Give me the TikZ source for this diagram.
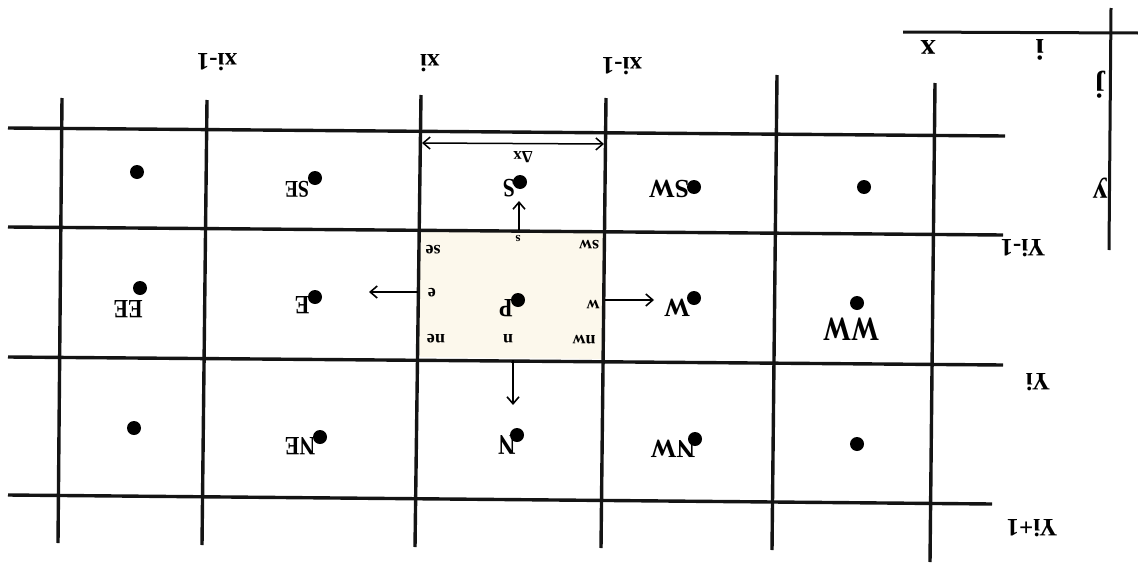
\documentclass[tikz,border=0pt]{standalone}
\usepackage{fontspec}
\usepackage{graphicx}
\setmainfont{Liberation Serif}
\usetikzlibrary{arrows.meta}
\definecolor{cream}{HTML}{FCF8EC}
\newcommand{\tallt}[1]{\scalebox{1}[1.2]{#1}}
\begin{document}
\begin{tikzpicture}[x=1pt,y=-1pt,
  gridline/.style={line width=3.4pt, black!92},
  axisline/.style={line width=3pt, black!92},
  cdot/.style={circle, fill=black, inner sep=0pt, minimum size=14pt},
  lab/.style={rotate=180, font=\bfseries\fontsize{22}{22}\selectfont, inner sep=0pt},
  biglab/.style={rotate=180, font=\bfseries\fontsize{26}{26}\selectfont, inner sep=0pt},
  ylab/.style={rotate=180, font=\bfseries\fontsize{25}{25}\selectfont, inner sep=0pt},
  xlab/.style={rotate=180, font=\bfseries\fontsize{25}{25}\selectfont, inner sep=0pt},
  alab/.style={rotate=180, font=\bfseries\fontsize{30}{30}\selectfont, inner sep=0pt},
  face/.style={rotate=180, font=\bfseries\fontsize{18}{18}\selectfont, inner sep=0pt},
  flux/.style={line width=1.6pt, -{Straight Barb[length=7pt,width=12pt]}},
]
\useasboundingbox (0,0) rectangle (1138,565);
% highlighted control volume
\fill[cream] (420,229) -- (606,231) -- (603,359) -- (416,357) -- cycle;
% grid
\draw[gridline] (8,128) -- (1005,136);
\draw[gridline] (8,227) -- (1003,235);
\draw[gridline] (8,357) -- (1003,365);
\draw[gridline] (8,495) -- (992,504);
\draw[gridline] (62,98) -- (58,543);
\draw[gridline] (207,100) -- (202,545);
\draw[gridline] (421,95) -- (415,547);
\draw[gridline] (606,98) -- (601,548);
\draw[gridline] (777,75) -- (772,550);
\draw[gridline] (935,83) -- (930,562);
% axes
\draw[axisline] (903,32) -- (1138,33);
\draw[axisline] (1111,8) -- (1109,250);
\node[alab] (ax) at (928,47) {x};
\node[alab] (ai) at (1040,50) {i};
\node[alab] (aj) at (1100,85) {j};
\node[alab] (ay) at (1100,188) {y};
% row / column labels
\node[xlab] (xa) at (217,62) {xi-1};
\node[xlab] (xb) at (430,63) {xi};
\node[xlab] (xc) at (622,66) {xi-1};
\node[ylab] (ya) at (1023,248) {Yi-1};
\node[ylab] (yb) at (1038,382) {Yi};
\node[ylab] (yc) at (1032,528) {Yi+1};
% nodes row 1
\node[cdot] (d11) at (137,172) {};
\node[cdot] (SE) at (315,178) {};
\node[cdot] (S) at (520,182) {};
\node[cdot] (SW) at (694,187) {};
\node[cdot] (d15) at (864,187) {};
% row 2
\node[cdot] (EE) at (140,288) {};
\node[cdot] (E) at (315,297) {};
\node[cdot] (P) at (518,300) {};
\node[cdot] (W) at (694,298) {};
\node[cdot] (WW) at (857,303) {};
% row 3
\node[cdot] (d31) at (134,428) {};
\node[cdot] (NE) at (320,437) {};
\node[cdot] (N) at (517,435) {};
\node[cdot] (NW) at (695,439) {};
\node[cdot] (d35) at (857,444) {};
% node labels
\node[lab, font=\bfseries\fontsize{20}{20}\selectfont] (tSE) at (297,189) {\tallt{SE}};
\node[lab] (tS) at (509,188) {\tallt{S}};
\node[biglab] (tSW) at (669,189) {SW};
\node[lab] (tEE) at (128,309) {\tallt{EE}};
\node[lab] (tE) at (302,305) {\tallt{E}};
\node[lab] (tP) at (506,308) {\tallt{P}};
\node[biglab] (tW) at (677,308) {W};
\node[biglab, font=\bfseries\fontsize{28}{28}\selectfont] (tWW) at (851,329) {\tallt{WW}};
\node[lab] (tNE) at (300,446) {\tallt{NE}};
\node[lab, font=\bfseries\fontsize{24}{24}\selectfont] (tN) at (507,445) {\tallt{N}};
\node[biglab] (tNW) at (673,449) {NW};
% face labels
\node[face] (fse) at (433,250) {se};
\node[face, font=\bfseries\fontsize{13}{13}\selectfont] (fs) at (518,238) {s};
\node[face] (fsw) at (589,245) {sw};
\node[face] (fe) at (432,293) {e};
\node[face] (fw) at (593,305) {w};
\node[face] (fne) at (436,339) {ne};
\node[face] (fn) at (508,339) {n};
\node[face] (fnw) at (584,340) {nw};
% flux arrows
\coordinate (fs0) at (519,230);
\coordinate (fs1) at (519,201);
\coordinate (fn0) at (513,360);
\coordinate (fn1) at (513,405);
\coordinate (fe0) at (418,292);
\coordinate (fe1) at (369,292);
\coordinate (fw0) at (605,300);
\coordinate (fw1) at (654,300);
\draw[flux] (fs0) -- (fs1);
\draw[flux] (fn0) -- (fn1);
\draw[flux] (fe0) -- (fe1);
\draw[flux] (fw0) -- (fw1);
% delta x
\coordinate (dx0) at (422,143);
\coordinate (dx1) at (604,144);
\draw[line width=1.5pt, {Straight Barb[length=7pt,width=12pt]}-{Straight Barb[length=7pt,width=12pt]}] (dx0) -- (dx1);
\node[face, font=\bfseries\fontsize{17}{17}\selectfont] (dxl) at (523,157) {Δx};
\end{tikzpicture}
\end{document}
